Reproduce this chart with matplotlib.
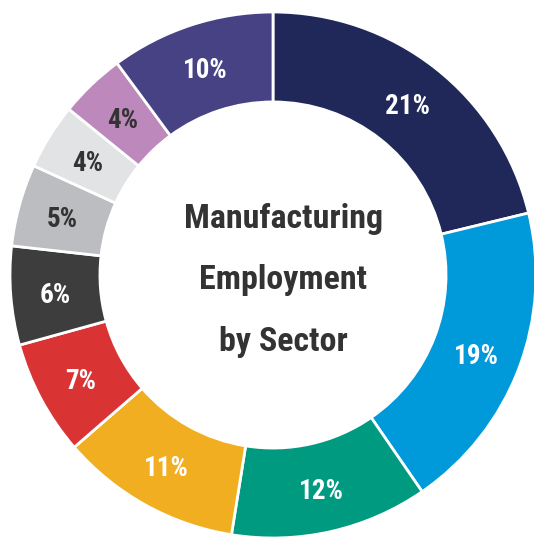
import matplotlib
matplotlib.use("Agg")
import matplotlib.pyplot as plt
from matplotlib import font_manager
from matplotlib.font_manager import FontProperties
import numpy as np

values = [21, 19, 12, 11, 7, 6, 5, 4, 4, 10]
labels = ["21%", "19%", "12%", "11%", "7%", "6%", "5%", "4%", "4%", "10%"]
colors = ["#1f2858", "#0099da", "#009a80", "#f2ae21", "#d93333",
          "#3d3d3d", "#bcbdc0", "#e2e3e4", "#bd88bb", "#464283"]
label_colors = ["white", "white", "white", "white", "white",
                "white", "#333333", "#333333", "#333333", "white"]
title_lines = "Manufacturing\nEmployment\nby Sector"

# find a bold condensed font if available
cands = []
for f in font_manager.fontManager.ttflist:
    fn = f.fname.lower()
    if ("condensed" in fn or "narrow" in fn) and "bold" in fn and "oblique" not in fn and "italic" not in fn:
        cands.append(f.fname)
pref = None
for key in ["robotocondensed-bold", "opensans_condensed-bold", "opensans-condensedbold",
            "dejavusanscondensed-bold", "narrow-bold", "condensed-bold"]:
    for c in cands:
        if key in c.lower().replace(" ", ""):
            pref = c
            break
    if pref:
        break
if pref is None and cands:
    pref = cands[0]

def fp(size):
    if pref:
        return FontProperties(fname=pref, size=size)
    return FontProperties(family="DejaVu Sans", weight="bold", size=size)

W, H = 534, 537
cx, cy, R = 273, 275, 263
fig = plt.figure(figsize=(W / 100, H / 100), dpi=100)
ax = fig.add_axes([0, 0, 1, 1])
ax.pie(values, colors=colors, startangle=90, counterclock=False,
       radius=1.0, wedgeprops=dict(width=0.342, edgecolor="white", linewidth=2))

total = sum(values)
ang = 90.0
for v, lab, lc in zip(values, labels, label_colors):
    span = v / total * 360
    mid = np.deg2rad(ang - span / 2)
    ang -= span
    r = 0.83
    ax.text(r * np.cos(mid), r * np.sin(mid) - 0.012, lab, ha="center", va="center",
            color=lc, fontproperties=fp(19.5))

ax.text(0.04, -0.02, title_lines, ha="center", va="center", color="#333333",
        fontproperties=fp(24.5), linespacing=2.18)

ax.set_xlim(-cx / R, (W - cx) / R)
ax.set_ylim(-(H - cy) / R, cy / R)
ax.set_aspect("auto")
ax.axis("off")
fig.savefig("out.png", dpi=100)
